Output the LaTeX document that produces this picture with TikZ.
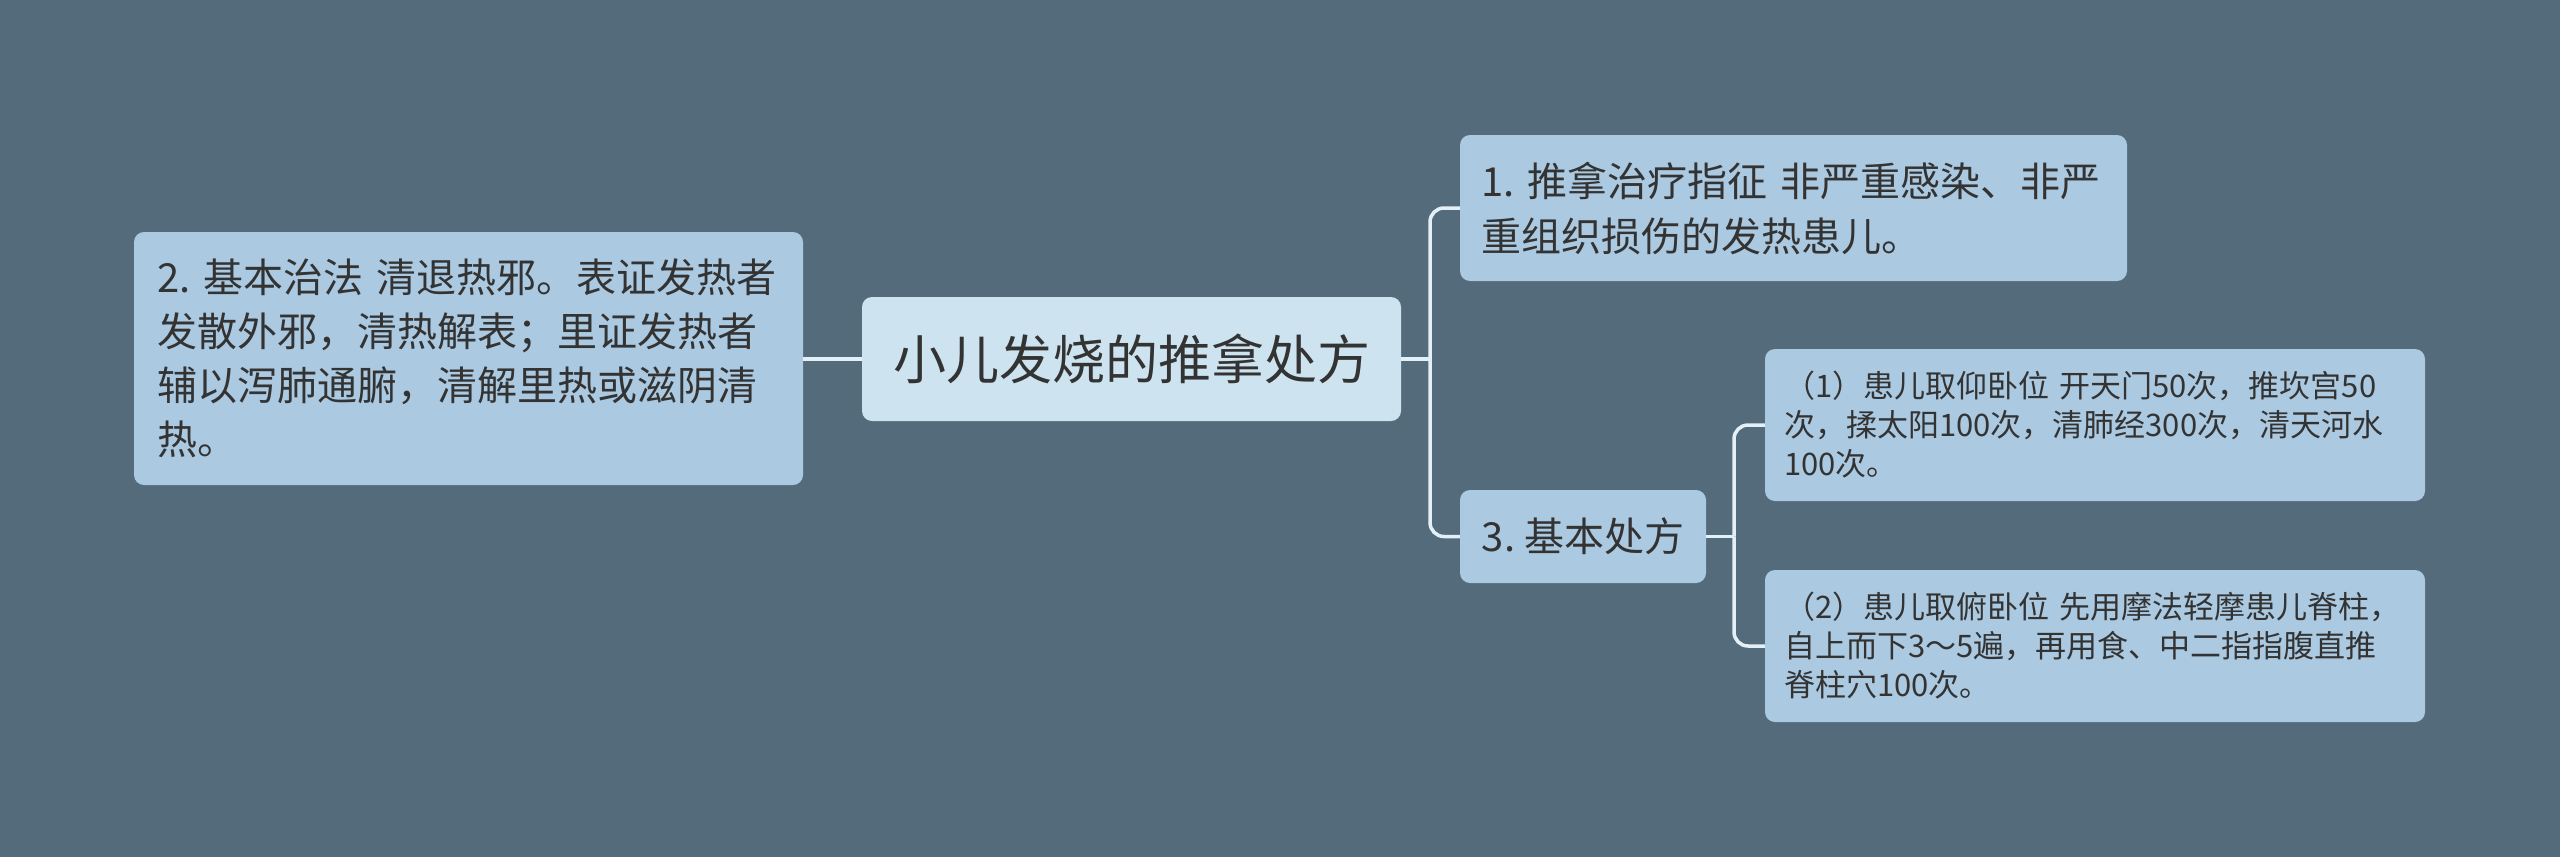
\documentclass[tikz,border=0pt]{standalone}
\usepackage{fontspec}
\setmainfont{Noto Sans CJK SC}
\definecolor{bg}{HTML}{546B7B}
\definecolor{boxfill}{HTML}{ABC9E0}
\definecolor{rootfill}{HTML}{CDE4F0}
\definecolor{linec}{HTML}{E3F0F8}
\definecolor{txt}{HTML}{333333}
\hbadness=10000 \hfuzz=100pt
\frenchspacing
\begin{document}
\begin{tikzpicture}[x=1pt,y=-1pt,
  box/.style={fill=boxfill, rounded corners=10pt, text=txt, inner ysep=0pt, anchor=center},
  conn/.style={draw=linec, line width=3.5pt, rounded corners=14pt}]
\useasboundingbox (0,0) rectangle (2560,857);
\fill[bg] (0,0) rectangle (2560,857);
\node[box, fill=rootfill, minimum width=539pt, minimum height=124pt, font=\fontsize{53}{64}\selectfont] (root) at (1131.5,359) {小儿发烧的推拿处方};
\node[box, text width=623pt, inner xsep=23pt, minimum height=253pt, align=left, font=\fontsize{40}{54}\selectfont] (b2) at (468.5,358.5) {\mbox{2. 基本治法 清退热邪。表证发热者}\\\mbox{发散外邪，清热解表；里证发热者}\\\mbox{辅以泻肺通腑，清解里热或滋阴清}\\\mbox{热。}};
\node[box, text width=625pt, inner xsep=21pt, minimum height=146pt, align=left, font=\fontsize{40}{55}\selectfont] (b1) at (1793.5,208) {\mbox{1. 推拿治疗指征 非严重感染、非严}\\\mbox{重组织损伤的发热患儿。}};
\node[box, minimum width=246pt, minimum height=93pt, font=\fontsize{40}{54}\selectfont] (b3) at (1583,536.5) {3. 基本处方};
\node[box, text width=622pt, inner xsep=19pt, minimum height=152pt, align=left, font=\fontsize{31}{39}\selectfont] (s1) at (2095,425) {\mbox{（1）患儿取仰卧位 开天门50次，推坎宫50}\\\mbox{次，揉太阳100次，清肺经300次，清天河水}\\\mbox{100次。}};
\node[box, text width=622pt, inner xsep=19pt, minimum height=152pt, align=left, font=\fontsize{31}{39}\selectfont] (s2) at (2095,646) {\mbox{（2）患儿取俯卧位 先用摩法轻摩患儿脊柱，}\\\mbox{自上而下3～5遍，再用食、中二指指腹直推}\\\mbox{脊柱穴100次。}};
\coordinate (j1) at (1430,359);
\coordinate (j2) at (1734,536.5);
\draw[conn] (root.west) -- (b2.east |- root.west);
\draw[conn] (root.east) -- (j1);
\draw[conn] (j1) |- (b1.west);
\draw[conn] (j1) |- (b3.west);
\draw[conn] (b3.east) -- (j2);
\draw[conn] (j2) |- (s1.west);
\draw[conn] (j2) |- (s2.west);
\end{tikzpicture}
\end{document}
